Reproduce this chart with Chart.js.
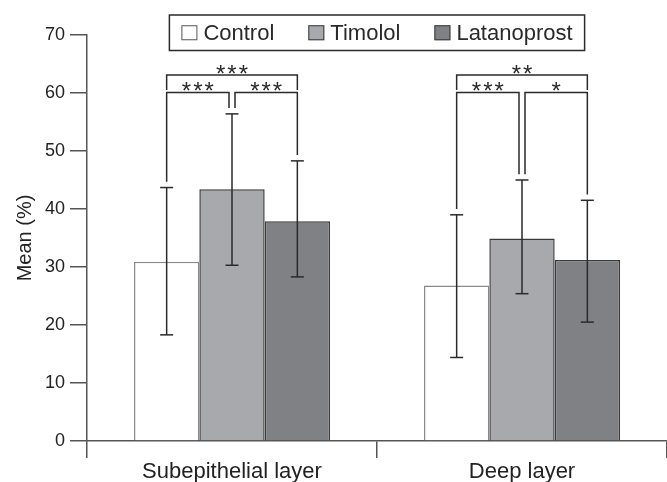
<!DOCTYPE html>
<html>
<head>
<meta charset="utf-8">
<script src="https://cdn.jsdelivr.net/npm/chart.js@4/dist/chart.umd.min.js"></script>
<style>
  html, body { margin: 0; padding: 0; background: #ffffff; }
  #wrap { width: 667px; height: 482px; }
</style>
</head>
<body>
<div id="wrap"><canvas id="c" width="667" height="482"></canvas></div>
<script>
// ---- data ----
const categories = ['Subepithelial layer', 'Deep layer'];
const seriesNames = ['Control', 'Timolol', 'Latanoprost'];
const controlMean = [30.9, 26.8];
const controlLow  = [18.3, 14.4];
const controlHigh = [43.7, 39.0];
const timololMean = [43.4, 34.9];
const timololLow  = [30.3, 25.4];
const timololHigh = [56.4, 45.0];
const latanoprostMean = [37.9, 31.2];
const latanoprostLow  = [28.3, 20.5];
const latanoprostHigh = [48.3, 41.5];
const yTicks = [0, 10, 20, 30, 40, 50, 60, 70];
// significance brackets
const sigCategory = [0, 0, 0, 1, 1, 1];
const sigFrom     = [0, 0, 1, 0, 0, 1];
const sigTo       = [2, 1, 2, 2, 1, 2];
const sigLevel    = [63.1, 60.1, 60.1, 63.1, 60.1, 60.1];
const sigLabel    = ['***', '***', '***', '**', '***', '*'];

const seriesMeans = [controlMean, timololMean, latanoprostMean];
const seriesLow = [controlLow, timololLow, latanoprostLow];
const seriesHigh = [controlHigh, timololHigh, latanoprostHigh];
const fills = ['#ffffff', '#a8a9ad', '#808185'];
const borders = ['#8a8a8a', '#3a3a3a', '#3a3a3a'];
const FONT = "'Liberation Sans', Arial, Helvetica, sans-serif";
const INK = '#2a2a2a';

function seg(ctx, x1, y1, x2, y2) {
  ctx.beginPath(); ctx.moveTo(x1, y1); ctx.lineTo(x2, y2); ctx.stroke();
}

const annotPlugin = {
  id: 'annot',
  afterDatasetsDraw(chart) {
    const ctx = chart.ctx;
    const ys = chart.scales.y;
    ctx.save();
    ctx.strokeStyle = INK;
    ctx.lineWidth = 1.5;
    // error bars
    seriesMeans.forEach((_, si) => {
      const meta = chart.getDatasetMeta(si);
      meta.data.forEach((bar, ci) => {
        const x = bar.x;
        const yl = ys.getPixelForValue(seriesLow[si][ci]);
        const yh = ys.getPixelForValue(seriesHigh[si][ci]);
        seg(ctx, x, yl, x, yh);
        seg(ctx, x - 6.5, yl, x + 6.5, yl);
        seg(ctx, x - 6.5, yh, x + 6.5, yh);
      });
    });
    // brackets
    sigLabel.forEach((lab, k) => {
      const c = sigCategory[k], a = sigFrom[k], b = sigTo[k];
      const outer = (b - a) === 2;
      let xa = chart.getDatasetMeta(a).data[c].x;
      let xb = chart.getDatasetMeta(b).data[c].x;
      if (!outer) {
        if (a === 1) xa += 3;
        if (b === 1) xb -= 3;
      }
      const yTop = ys.getPixelForValue(sigLevel[k]);
      const endA = outer ? ys.getPixelForValue(sigLevel[k] - 2.6) : ys.getPixelForValue(seriesHigh[a][c] + 1.0);
      const endB = outer ? ys.getPixelForValue(sigLevel[k] - 2.6) : ys.getPixelForValue(seriesHigh[b][c] + 1.0);
      ctx.beginPath();
      ctx.moveTo(xa, endA);
      ctx.lineTo(xa, yTop);
      ctx.lineTo(xb, yTop);
      ctx.lineTo(xb, endB);
      ctx.stroke();
      // stars
      ctx.fillStyle = INK;
      ctx.font = '24px ' + FONT;
      ctx.textAlign = 'center';
      ctx.textBaseline = 'alphabetic';
      const n = lab.length;
      const mid = (xa + xb) / 2;
      for (let i = 0; i < n; i++) {
        const sx = mid + (i - (n - 1) / 2) * 11.3;
        ctx.fillText('*', sx, yTop + 7);
      }
    });
    ctx.restore();
  },
  afterDraw(chart) {
    // legend box overlapping the top of the plot
    const ctx = chart.ctx;
    ctx.save();
    ctx.font = '22px ' + FONT;
    const pad = 12, sw = 16, gap = 6, itemGap = 34;
    const widths = seriesNames.map(s => ctx.measureText(s).width);
    let total = pad * 2;
    widths.forEach((w, i) => { total += sw + gap + w + (i < widths.length - 1 ? itemGap : 0); });
    const ca = chart.chartArea;
    const cx = (ca.left + ca.right) / 2;
    const x0 = cx - total / 2;
    const top = 15, h = 35.5;
    ctx.fillStyle = '#ffffff';
    ctx.fillRect(x0, top, total, h);
    ctx.strokeStyle = INK;
    ctx.lineWidth = 1.5;
    ctx.strokeRect(x0, top, total, h);
    let x = x0 + pad;
    const midY = top + h / 2;
    seriesNames.forEach((s, i) => {
      ctx.fillStyle = fills[i];
      ctx.fillRect(x, midY - 7.5, sw, 15);
      ctx.strokeStyle = i === 0 ? '#555' : '#3a3a3a';
      ctx.lineWidth = 1;
      ctx.strokeRect(x + 0.5, midY - 7.5 + 0.5, sw - 1, 14);
      ctx.fillStyle = INK;
      ctx.textAlign = 'left';
      ctx.textBaseline = 'middle';
      ctx.fillText(s, x + sw + gap, midY + 1);
      x += sw + gap + widths[i] + itemGap;
    });
    ctx.restore();
  }
};

new Chart(document.getElementById('c'), {
  type: 'bar',
  data: {
    labels: categories,
    datasets: seriesNames.map((name, i) => ({
      label: name,
      data: seriesMeans[i],
      backgroundColor: fills[i],
      borderColor: borders[i],
      borderWidth: 1.5,
      barPercentage: 1.0,
      categoryPercentage: 0.676
    }))
  },
  options: {
    responsive: false,
    devicePixelRatio: 1,
    animation: false,
    layout: { padding: { top: 35, right: 0, left: 0, bottom: 0 } },
    plugins: {
      legend: { display: false },
      tooltip: { enabled: false }
    },
    scales: {
      x: {
        type: 'category',
        grid: { offset: true, drawOnChartArea: false, drawTicks: true, tickLength: 17, color: '#555', lineWidth: 1.5 },
        border: { display: true, color: '#555', width: 1.5 },
        ticks: { font: { size: 22, family: FONT }, color: '#222', padding: 1, maxRotation: 0 },
        afterFit: s => { s.height = 41; }
      },
      y: {
        min: 0, max: 70,
        afterBuildTicks: s => { s.ticks = yTicks.map(v => ({ value: v })); },
        grid: { drawOnChartArea: false, drawTicks: true, tickLength: 17, color: '#555', lineWidth: 1.5 },
        border: { display: true, color: '#555', width: 1.5 },
        ticks: { font: { size: 18, family: FONT }, color: '#222', padding: 5 },
        title: { display: true, text: 'Mean (%)', font: { size: 20, family: FONT }, color: '#222', padding: { top: 13, bottom: 0 } },
        afterFit: s => { s.width = 87; }
      }
    }
  },
  plugins: [annotPlugin]
});
</script>
</body>
</html>
